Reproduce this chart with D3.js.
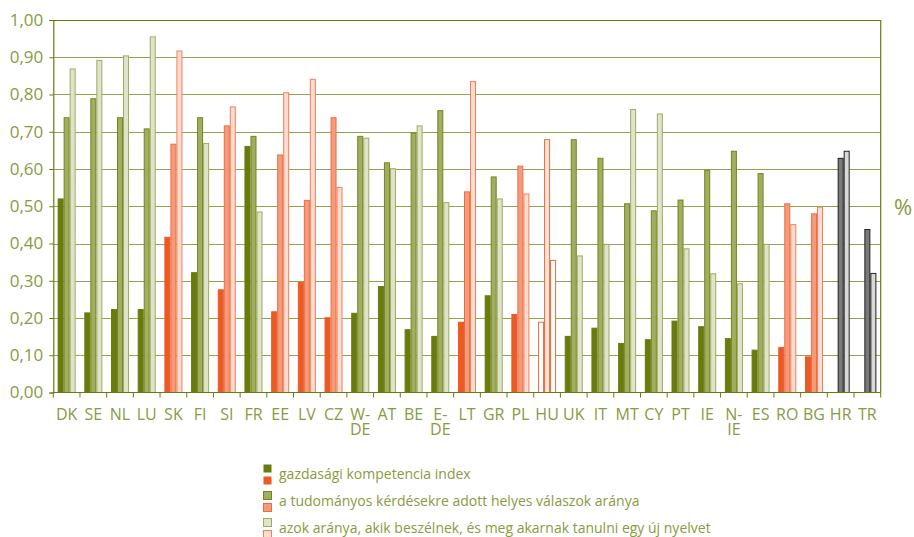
<!DOCTYPE html>
<html>
<head>
<meta charset="utf-8">
<script src="https://cdn.jsdelivr.net/npm/d3@7"></script>
<style>
  html, body { margin: 0; padding: 0; background: #fff; }
  svg { display: block; }
  text { font-family: "Open Sans", "Noto Sans", sans-serif; fill: #8a9a42; }
</style>
</head>
<body>
<svg id="chart" width="914" height="537"></svg>
<script>
// ---- data ----
const categories = ["DK","SE","NL","LU","SK","FI","SI","FR","EE","LV","CZ","W-DE","AT","BE","E-DE","LT","GR","PL","HU","UK","IT","MT","CY","PT","IE","N-IE","ES","RO","BG","HR","TR"];
const groups = ["green","green","green","green","orange","green","orange","green","orange","orange","orange","green","green","green","green","orange","green","orange","outline","green","green","green","green","green","green","green","green","orange","orange","gray","gray"];
const competenceIndex = [0.521,0.215,0.224,0.224,0.418,0.323,0.277,0.662,0.218,0.297,0.202,0.214,0.286,0.170,0.152,0.190,0.261,0.211,0.190,0.152,0.174,0.133,0.143,0.193,0.178,0.146,0.115,0.122,0.097,null,null];
const scienceAnswers = [0.739,0.790,0.739,0.709,0.668,0.739,0.717,0.689,0.639,0.517,0.739,0.689,0.618,0.698,0.758,0.540,0.580,0.609,0.680,0.680,0.630,0.508,0.489,0.518,0.598,0.649,0.589,0.508,0.481,0.630,0.439];
const languageLearners = [0.870,0.893,0.905,0.956,0.918,0.670,0.768,0.486,0.806,0.842,0.552,0.684,0.602,0.717,0.511,0.836,0.521,0.534,0.356,0.368,0.399,0.761,0.749,0.387,0.320,0.293,0.399,0.452,0.499,0.649,0.321];
const seriesNames = ["gazdasági kompetencia index","a tudományos kérdésekre adott helyes válaszok aránya","azok aránya, akik beszélnek, és meg akarnak tanulni egy új nyelvet"];
const yTicks = [0,0.1,0.2,0.3,0.4,0.5,0.6,0.7,0.8,0.9,1.0];
const unitLabel = "%";

(function () {
// ---- styles ----
const palette = {
  green:   { fill: ["#6a7b0e","#a3ad62","#dfe3c9"], stroke: ["#6a7b0e","#74851c","#9fab62"] },
  orange:  { fill: ["#eb5a25","#f49b7b","#fcdcd0"], stroke: ["#eb5a25","#ee6d40","#f2805a"] },
  outline: { fill: ["#ffffff","#fde4da","#ffffff"], stroke: ["#ee6a3a","#ee6a3a","#ee6a3a"] },
  gray:    { fill: ["#7a7a7a","#7a7a7a","#d9d9d9"], stroke: ["#222","#222","#222"] }
};
const axisColor = "#6a7b0e";
const gridColor = "#93a24c";

const svg = d3.select("#chart");
const pLeft = 53.3, pRight = 880.7, pTop = 20, pBottom = 392.5;

const x = d3.scaleBand().domain(categories).range([pLeft, pRight]).paddingInner(0).paddingOuter(0);
const xs = d3.scaleBand().domain([0,1,2]).range([0, x.bandwidth()]).paddingInner(0).paddingOuter(0.72);
const y = d3.scaleLinear().domain([0, 1]).range([pBottom, pTop]);

// grid lines
svg.append("g").selectAll("line").data(yTicks.filter(t => t > 0 && t < 1)).join("line")
  .attr("x1", pLeft).attr("x2", pRight)
  .attr("y1", d => Math.round(y(d)) + 0.5).attr("y2", d => Math.round(y(d)) + 0.5)
  .attr("stroke", gridColor).attr("stroke-width", 1.2);

// frame top and right
svg.append("line").attr("x1", pLeft).attr("x2", pRight).attr("y1", Math.round(y(1)) + 0.5).attr("y2", Math.round(y(1)) + 0.5)
  .attr("stroke", axisColor).attr("stroke-width", 1.2);
svg.append("line").attr("x1", pRight).attr("x2", pRight).attr("y1", y(1)).attr("y2", y(0))
  .attr("stroke", axisColor).attr("stroke-width", 1.2);

// bars
const seriesData = [competenceIndex, scienceAnswers, languageLearners];
const barG = svg.append("g");
categories.forEach((c, i) => {
  const g = barG.append("g").attr("transform", `translate(${x(c)},0)`);
  seriesData.forEach((arr, s) => {
    const v = arr[i];
    if (v == null) return;
    const pal = palette[groups[i]];
    g.append("rect")
      .attr("x", xs(s) + 0.5)
      .attr("y", y(v) + 0.5)
      .attr("width", xs.bandwidth() - 1)
      .attr("height", y(0) - y(v) - 0.5)
      .attr("fill", pal.fill[s])
      .attr("stroke", pal.stroke[s])
      .attr("stroke-width", 1);
  });
});

// y axis
const yAxis = d3.axisLeft(y).tickValues(yTicks).tickSize(4).tickPadding(6)
  .tickFormat(d => d3.format(".2f")(d).replace(".", ","));
const ya = svg.append("g").attr("transform", `translate(${pLeft},0)`).call(yAxis);
ya.select(".domain").attr("stroke", axisColor).attr("stroke-width", 1.2);
ya.selectAll(".tick line").attr("stroke", axisColor);
ya.selectAll(".tick text").attr("font-size", 17).attr("fill", "#8a9a42")
  .style("font-family", '"Open Sans", sans-serif');

// x axis
const xa = svg.append("g").attr("transform", `translate(0,${pBottom})`);
xa.append("line").attr("x1", pLeft).attr("x2", pRight).attr("y1", 0).attr("y2", 0)
  .attr("stroke", axisColor).attr("stroke-width", 1.2);
const boundaries = categories.map(c => x(c)).concat([pRight]);
xa.selectAll("line.tk").data(boundaries).join("line").attr("class", "tk")
  .attr("x1", d => d).attr("x2", d => d).attr("y1", 0).attr("y2", 5)
  .attr("stroke", axisColor).attr("stroke-width", 1);
const labelLines = [];
categories.forEach(c => {
  const parts = c.includes("-") ? [c.split("-")[0] + "-", c.split("-")[1]] : [c];
  parts.forEach((p, k) => labelLines.push({ cat: c, text: p, line: k }));
});
xa.selectAll("text.lbl").data(labelLines).join("text").attr("class", "lbl")
  .attr("x", d => x(d.cat) + x.bandwidth() / 2)
  .attr("y", d => 27 + d.line * 15)
  .attr("text-anchor", "middle")
  .attr("font-size", 16)
  .text(d => d.text);

// unit label
svg.append("text").attr("x", 894).attr("y", 215).attr("font-size", 22).text(unitLabel);

// legend
const legend = svg.append("g").attr("transform", "translate(263,464)");
seriesNames.forEach((name, s) => {
  const row = legend.append("g").attr("transform", `translate(0,${s * 27})`);
  row.append("rect").attr("x", 0.5).attr("y", 0.5).attr("width", 8).attr("height", 8)
    .attr("fill", palette.green.fill[s]).attr("stroke", palette.green.stroke[s]).attr("stroke-width", s === 0 ? 0 : 1);
  row.append("rect").attr("x", 0.5).attr("y", 12.5).attr("width", 8).attr("height", 8)
    .attr("fill", palette.orange.fill[s]).attr("stroke", palette.orange.stroke[s]).attr("stroke-width", s === 0 ? 0 : 1);
  row.append("text").attr("x", 16).attr("y", 14.5).attr("font-size", 14).text(name);
});
})();
</script>
</body>
</html>
